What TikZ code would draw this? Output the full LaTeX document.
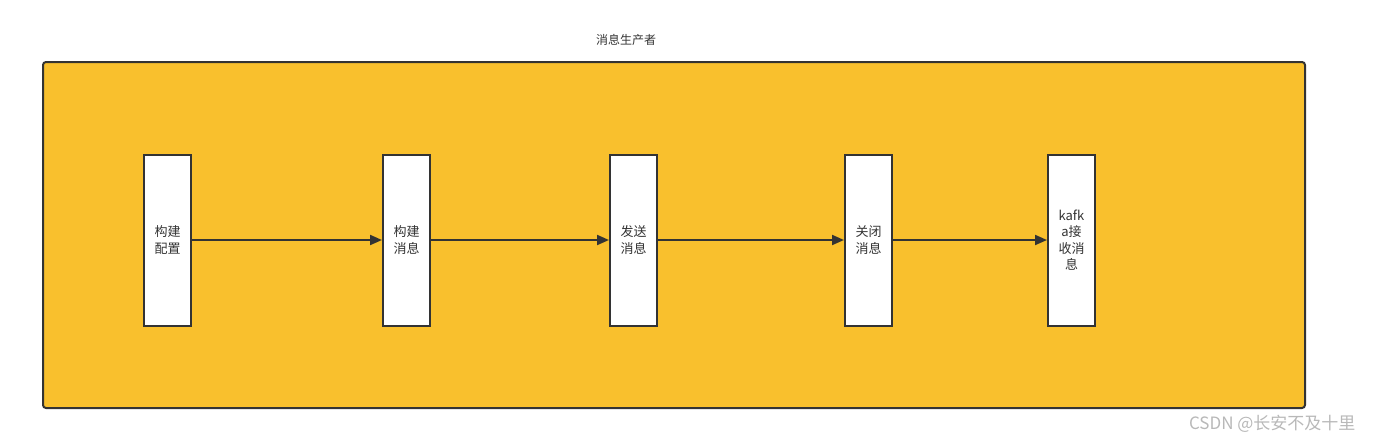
\documentclass[tikz,border=0pt]{standalone}
\usepackage{fontspec}
\setmainfont{Noto Sans CJK SC}
\usetikzlibrary{arrows.meta}
\definecolor{boxyellow}{HTML}{F9C02D}
\definecolor{edge}{HTML}{333333}
\definecolor{wm}{HTML}{B8B8B8}
\begin{document}
\begin{tikzpicture}[x=1pt,y=-1pt,
  stepbox/.style={draw=edge,line width=2pt,fill=white,minimum width=47pt,minimum height=171pt,
    inner sep=0pt,align=center,font=\fontsize{13}{16.5}\selectfont,text=edge},
  conn/.style={draw=edge,line width=2pt,-{Triangle[length=12pt,width=10pt]}}]
\useasboundingbox (0,0) rectangle (1374,442);
\node[draw=edge,line width=2pt,fill=boxyellow,rounded corners=3pt,minimum width=1262pt,minimum height=346pt,inner sep=0pt] (frame) at (674,235) {};
\node[font=\fontsize{12}{14}\selectfont,text=edge] (title) at (626,40) {消息生产者};
\node[stepbox] (s1) at (167.5,240) {构建\\配置};
\node[stepbox] (s2) at (406.5,240) {构建\\消息};
\node[stepbox] (s3) at (633.5,240) {发送\\消息};
\node[stepbox] (s4) at (868.5,240) {关闭\\消息};
\node[stepbox] (s5) at (1071.5,240) {kafk\\a接\\收消\\息};
\draw[conn] (s1) -- (s2);
\draw[conn] (s2) -- (s3);
\draw[conn] (s3) -- (s4);
\draw[conn] (s4) -- (s5);
\node[font=\fontsize{17}{20}\selectfont,text=wm,anchor=east] (wmark) at (1359,424) {CSDN @长安不及十里};
\end{tikzpicture}
\end{document}
